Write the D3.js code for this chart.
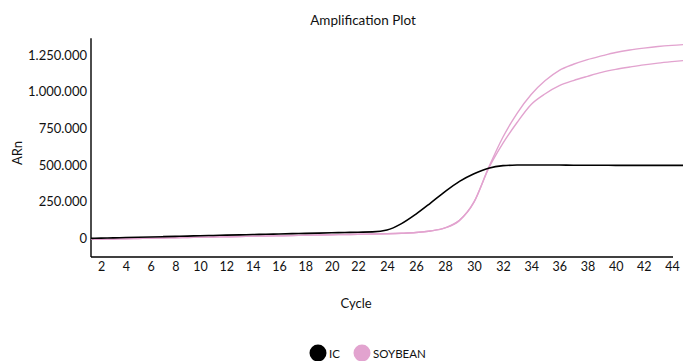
<!DOCTYPE html>
<html>
<head>
<meta charset="utf-8">
<script src="https://cdn.jsdelivr.net/npm/d3@7"></script>
<style>
  html, body { margin: 0; padding: 0; background: #fff; }
  svg { display: block; font-family: Lato, "Open Sans", sans-serif; }
</style>
</head>
<body>
<svg id="chart" width="683" height="361"></svg>
<script>
// Amplification curves (ΔRn per PCR cycle)
const cycles = d3.range(1, 46);

const icValues = [
  -1000, 1000, 3000, 5000, 7000, 9000, 11000, 13000, 15000, 17500,
  19500, 21500, 23500, 25500, 27500, 29500, 31500, 33500, 35500, 37500,
  39500, 41500, 43500, 56000, 100000, 165000, 240000, 318000, 388000, 440000,
  478000, 495000, 499000, 500000, 499000, 499000, 498000, 498000, 498000, 497000,
  497000, 497000, 497000, 497000, 497000
];

const soybeanA = [
  -8000, -6300, -4600, -3000, -1300, 400, 2000, 3800, 5400, 7100,
  8800, 10500, 12200, 13800, 15500, 17200, 18900, 20500, 22200, 23900,
  25600, 27300, 29000, 31000, 34000, 39000, 50000, 71000, 122000, 248000,
  480000, 690000, 852000, 980000, 1075000, 1145000, 1186000, 1218000, 1243000, 1266000,
  1283000, 1296000, 1307000, 1315000, 1321000
];

const soybeanB = [
  -8000, -6300, -4600, -3000, -1300, 400, 2000, 3800, 5400, 7100,
  8800, 10500, 12200, 13800, 15500, 17200, 18900, 20500, 22200, 23900,
  25600, 27300, 29000, 31000, 34000, 39000, 50000, 71000, 122000, 246000,
  474000, 648000, 789000, 912000, 985000, 1040000, 1075000, 1104000, 1131000, 1151000,
  1167000, 1182000, 1194000, 1204000, 1213000
];

const xTicks = d3.range(2, 45, 2);
const yTicks = [0, 250000, 500000, 750000, 1000000, 1250000];

const seriesList = [
  { name: "IC", values: icValues, color: "#000000" },
  { name: "SOYBEAN", values: soybeanA, color: "#e2a3cf" },
  { name: "SOYBEAN", values: soybeanB, color: "#e2a3cf" }
];
const legendItems = [
  { name: "IC", color: "#000000" },
  { name: "SOYBEAN", color: "#e2a3cf" }
];

const svg = d3.select("#chart");
const plotLeft = 91, plotRight = 673, plotTop = 38.3, plotBottom = 257;

// Cycle axis
const x = d3.scaleLinear()
  .domain([2, 10, 22, 32, 44])
  .range([101, 200, 358, 503, 672]);

const y = d3.scaleLinear()
  .domain([-127500, 1363000])
  .range([plotBottom, plotTop]);

const fmt = d3.formatLocale({ decimal: ",", thousands: ".", grouping: [3], currency: ["", ""] }).format(",d");

// Title
svg.append("text")
  .attr("x", 363).attr("y", 25)
  .attr("text-anchor", "middle")
  .attr("font-size", 13.5)
  .attr("fill", "#111")
  .text("Amplification Plot");

// Y axis
const yAxis = svg.append("g")
  .attr("transform", `translate(${plotLeft},0)`)
  .call(d3.axisLeft(y).tickValues(yTicks).tickFormat(fmt).tickSize(0).tickPadding(4));
yAxis.select(".domain").remove();
yAxis.selectAll("text").attr("font-size", 13).attr("fill", "#111").attr("font-family", "Lato, sans-serif");

// X axis
const xAxis = svg.append("g")
  .attr("transform", `translate(0,${plotBottom})`)
  .call(d3.axisBottom(x).tickValues(xTicks).tickFormat(d3.format("d")).tickSize(0).tickPadding(5));
xAxis.select(".domain").remove();
xAxis.selectAll("text").attr("font-size", 12.5).attr("fill", "#111").attr("font-family", "Lato, sans-serif");

// Axis lines
svg.append("line")
  .attr("x1", plotLeft).attr("x2", plotLeft).attr("y1", plotTop).attr("y2", plotBottom)
  .attr("stroke", "#000").attr("stroke-width", 1.4);
svg.append("line")
  .attr("x1", plotLeft).attr("x2", plotRight).attr("y1", plotBottom).attr("y2", plotBottom)
  .attr("stroke", "#000").attr("stroke-width", 1.4);

// Axis titles
svg.append("text")
  .attr("transform", `translate(22,153) rotate(-90)`)
  .attr("text-anchor", "middle")
  .attr("font-size", 13)
  .attr("fill", "#111")
  .text("ARn");

svg.append("text")
  .attr("x", 356).attr("y", 308)
  .attr("text-anchor", "middle")
  .attr("font-size", 13)
  .attr("fill", "#111")
  .text("Cycle");

// Curves
svg.append("clipPath").attr("id", "plot-clip")
  .append("rect").attr("x", plotLeft).attr("y", 0).attr("width", 683 - plotLeft).attr("height", plotBottom);

const line = d3.line()
  .x((d, i) => x(cycles[i]))
  .y(d => y(d))
  .curve(d3.curveMonotoneX);

const curves = svg.append("g").attr("clip-path", "url(#plot-clip)");
// Soybean replicates first, IC on top
[seriesList[1], seriesList[2], seriesList[0]].forEach(s => {
  curves.append("path")
    .attr("d", line(s.values))
    .attr("fill", "none")
    .attr("stroke", s.color)
    .attr("stroke-width", s.name === "IC" ? 1.6 : 1.4)
    .attr("stroke-linejoin", "round");
});

// Legend
const legend = svg.append("g");
const legendX = [318, 362];
legendItems.forEach((item, i) => {
  const g = legend.append("g").attr("transform", `translate(${legendX[i]},353)`);
  g.append("circle").attr("r", 8.5).attr("fill", item.color);
  g.append("text")
    .attr("x", 11).attr("y", 4.5)
    .attr("font-size", 11.5)
    .attr("fill", "#111")
    .text(item.name);
});
</script>
</body>
</html>
